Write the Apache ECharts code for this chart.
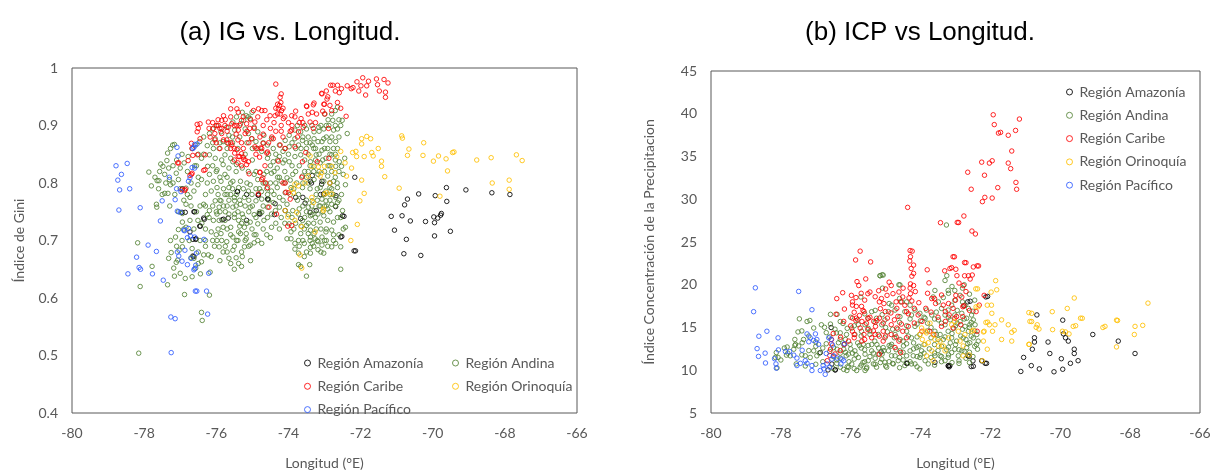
<!DOCTYPE html>
<html>
<head>
<meta charset="utf-8">
<script src="https://cdn.jsdelivr.net/npm/echarts@6/dist/echarts.min.js"></script>
<style>html,body{margin:0;padding:0;background:#fff}#c{width:1222px;height:475px}</style>
</head>
<body>
<div id="c"></div>
<script>
// ---------- categories ----------
const regions = ['Región Amazonía', 'Región Andina', 'Región Caribe', 'Región Orinoquía', 'Región Pacífico'];
const titles = ['(a) IG vs. Longitud.', '(b) ICP vs Longitud.'];
const xName = 'Longitud (°E)';
const yNames = ['Índice de Gini', 'Índice Concentración de la Precipitacion'];

// ---------- (a) Gini index vs longitude ----------
const igAmazonia = [[-72.16,0.81],[-72.18,0.682],[-71.15,0.742],[-71.06,0.718],[-70.85,0.743],[-70.78,0.762],[-70.7,0.772],[-70.73,0.702],[-70.8,0.677],[-70.62,0.734],[-70.39,0.781],[-70.33,0.674],[-70.2,0.733],[-69.95,0.708],[-69.95,0.731],[-69.93,0.778],[-69.97,0.741],[-69.86,0.739],[-69.78,0.744],[-69.76,0.747],[-69.62,0.792],[-69.61,0.768],[-69.51,0.716],[-69.08,0.788],[-68.36,0.783],[-67.86,0.78],
[-76.62,0.75],[-76.35,0.739],[-76.46,0.725],[-76.73,0.715],[-76.65,0.702],[-76.57,0.702],[-76.65,0.673],[-76.94,0.79],[-75.84,0.736],[-75.67,0.739],[-75.42,0.785],[-75.16,0.78],[-74.84,0.779],[-74.81,0.747],[-74.58,0.772],[-74.39,0.745],[-74.09,0.752],[-73.8,0.775],[-73.66,0.738],[-73.39,0.803],[-73.23,0.752],[-73.11,0.78],[-73.07,0.803],[-72.69,0.759],[-72.55,0.706],[-72.5,0.743],[-73.6,0.775],[-73.34,0.813],
[-76.95,0.749],[-76.86,0.749],[-76.6,0.75],[-76.56,0.703],[-76.62,0.672],[-76.44,0.725],[-75.41,0.785],[-74.83,0.779],[-74.56,0.772],[-74.37,0.764],[-74.79,0.746],[-75.8,0.737],[-75.16,0.735],[-76.33,0.737],[-73.54,0.765],[-73.36,0.8],[-73.08,0.798],[-73.03,0.781],[-73.4,0.749],[-72.46,0.742],[-72.52,0.707],[-72.14,0.682],[-72.68,0.778],[-72.85,0.8]];

const igAndina = [[-78.18,0.696],[-78.11,0.62],[-78.15,0.504],[-77.87,0.819],[-77.78,0.655],[-77.8,0.795],[-77.64,0.804],[-77.66,0.763],[-77.65,0.758],[-77.59,0.804],[-77.57,0.82],[-77.54,0.833],[-77.48,0.829],[-77.37,0.839],[-77.35,0.852],[-77.27,0.86],[-77.21,0.866],[-77.16,0.867],[-77.43,0.815],[-77.43,0.782],[-77.34,0.782],[-77.32,0.826],[-77.29,0.76],[-77.3,0.806],[-77.27,0.797],[-77.35,0.623],[-77.32,0.669],[-77.27,0.7],[-77.25,0.679],[-77.18,0.652],[-77.16,0.638],[-77.11,0.662],[-77.07,0.666],[-77.03,0.683],[-77.0,0.643],[-76.94,0.689],[-76.88,0.606],[-76.86,0.634],[-76.67,0.637],[-76.62,0.669],[-76.67,0.686],[-76.57,0.652],[-76.44,0.642],[-76.41,0.663],[-76.35,0.675],[-76.41,0.575],[-76.39,0.561],[-76.19,0.605],[-76.17,0.645],[-76.22,0.675],[-76.14,0.672],
[-77.13,0.706],[-77.05,0.719],[-76.94,0.732],[-76.84,0.723],[-76.73,0.735],[-76.62,0.72],[-76.51,0.735],[-76.94,0.747],[-76.84,0.763],[-76.73,0.775],[-76.62,0.786],[-76.51,0.797],[-76.41,0.806],[-76.84,0.791],[-77.05,0.806],[-77.11,0.817],[-77.0,0.826],[-76.89,0.835],[-76.78,0.846],[-76.67,0.86],[-76.57,0.866],[-76.46,0.872],[-76.35,0.88],[-76.19,0.886],[-76.1,0.894],[-76.03,0.877],[-76.41,0.843],[-76.24,0.829],[-76.19,0.815],[-76.3,0.78],[-76.35,0.763],[-76.19,0.752],[-76.08,0.735],[-76.14,0.715],[-75.98,0.7],[-75.92,0.689],[-75.81,0.68],[-75.65,0.669],[-75.54,0.683],[-75.38,0.66],[-75.28,0.672],[-75.22,0.689],[-75.17,0.703],[-75.06,0.692],[-74.95,0.696],[-74.74,0.695],[-74.47,0.723],[-74.25,0.72],[-74.04,0.703],[-73.93,0.703],[-73.82,0.685],[-73.72,0.658],[-73.66,0.655],[-73.5,0.638],[-73.41,0.658],[-73.39,0.688],[-73.34,0.695],[-73.26,0.703],[-73.18,0.698],[-73.07,0.692],[-73.02,0.678],[-72.91,0.69],[-72.8,0.689],[-72.69,0.695],[-72.55,0.689],[-72.55,0.65],[-72.48,0.72],[-72.42,0.723],[-72.5,0.752],[-72.64,0.766],[-72.53,0.78],[-72.42,0.797],[-72.48,0.815],[-72.53,0.829],[-72.44,0.843],[-72.37,0.886],[-72.51,0.909],[-72.55,0.9],[-72.64,0.894],[-72.75,0.892],[-72.7,0.926],[-72.64,0.932],[-72.77,0.909],[-72.88,0.9],[-73.02,0.894],[-73.16,0.897],[-73.29,0.889],[-73.45,0.88],[-73.61,0.874],[-73.72,0.866],[-73.82,0.877],[-73.98,0.863],[-74.15,0.855],[-74.25,0.846],[-74.42,0.837],[-74.58,0.843],[-74.74,0.855],[-74.9,0.872],[-75.01,0.877],[-75.11,0.886],[-75.2,0.894],[-75.24,0.909],[-75.17,0.917],[-75.06,0.912],[-75.33,0.903],[-75.49,0.892],[-75.65,0.883],[-75.81,0.872],[-75.92,0.86],[-75.76,0.849],[-75.6,0.843],[-75.44,0.832],[-75.28,0.826],[-75.11,0.82],[-74.95,0.815],[-74.85,0.806],[-74.68,0.815],[-74.47,0.817],[-74.31,0.826],[-74.15,0.835],[-73.98,0.837],[-73.82,0.846],[-73.66,0.849],[-73.5,0.86],[-73.34,0.866],[-73.18,0.872],[-73.02,0.877],[-72.85,0.872],[-72.69,0.872],[-72.64,0.86],[-72.8,0.849],[-72.96,0.843],[-73.12,0.835],[-73.29,0.829],[-73.45,0.82],[-73.61,0.812],[-73.77,0.8],[-73.93,0.792],[-74.09,0.783],[-74.25,0.775],[-74.42,0.766],[-74.58,0.758],[-74.74,0.749],[-74.9,0.74],[-75.06,0.732],[-75.22,0.723],[-75.38,0.715],[-75.54,0.706],[-75.71,0.698],[-75.87,0.712],[-75.81,0.723],[-75.76,0.735],[-75.65,0.746],[-75.54,0.758],[-75.49,0.769],[-75.44,0.78],[-75.38,0.792],[-75.33,0.803],[-75.54,0.803],[-75.65,0.792],[-75.76,0.78],[-75.87,0.769],[-75.92,0.758],[-75.98,0.746],[-75.92,0.735],[-76.03,0.769],[-75.98,0.792],[-75.87,0.803],[-75.76,0.815],[-75.65,0.826],[-75.54,0.837],[-75.81,0.832],[-76.03,0.843],[-76.08,0.86],[-76.19,0.849],[-75.98,0.823],[-76.08,0.803],[-76.14,0.786],[-75.33,0.763],[-75.22,0.775],[-75.11,0.786],[-75.06,0.797],[-75.01,0.78],[-74.9,0.769],[-75.06,0.758],[-75.28,0.746],[-75.38,0.735],[-75.49,0.746],[-75.6,0.723],[-75.44,0.7],[-75.33,0.712],[-75.17,0.712],[-75.01,0.72],[-74.85,0.729],[-74.68,0.735],[-74.58,0.74],[-74.47,0.746],[-74.36,0.752],[-74.25,0.758],[-74.31,0.792],[-74.47,0.786],[-74.58,0.78],[-74.74,0.772],[-74.2,0.803],[-74.04,0.809],[-73.88,0.815],[-74.04,0.763],[-73.88,0.752],[-73.72,0.746],[-73.61,0.735],[-73.5,0.726],[-73.39,0.718],[-73.29,0.712],[-73.45,0.712],[-73.56,0.72],[-73.66,0.712],[-73.72,0.7],[-73.56,0.695],[-73.39,0.706],[-73.23,0.72],[-73.12,0.732],[-73.02,0.743],[-72.91,0.755],[-72.8,0.763],[-72.69,0.775],[-72.85,0.78],[-72.96,0.769],[-73.12,0.76],[-73.29,0.752],[-73.39,0.743],[-73.45,0.758],[-73.34,0.769],[-73.23,0.78],[-73.12,0.792],[-73.02,0.803],[-72.91,0.812],[-72.8,0.82],[-72.69,0.829],[-72.59,0.837],[-72.75,0.803],[-72.64,0.792],[-72.85,0.792],[-72.96,0.786],[-73.07,0.772],[-73.18,0.746],[-72.91,0.735],[-72.75,0.732],[-72.64,0.74],[-72.8,0.718],[-72.96,0.715],[-73.07,0.706],[-73.18,0.684],[-73.39,0.678],[-73.56,0.672],[-73.72,0.678],[-73.82,0.695],[-73.93,0.715],[-73.98,0.729],[-73.72,0.78],[-73.61,0.792],[-73.45,0.8],[-73.29,0.806],[-73.18,0.815],[-73.39,0.837],[-73.23,0.849],[-73.07,0.857],[-72.91,0.86],[-72.75,0.86],[-73.07,0.872],[-73.29,0.877],[-73.5,0.894],[-73.66,0.889],[-73.82,0.892],[-73.98,0.883],[-74.09,0.874],[-74.25,0.866],[-74.42,0.86],[-74.58,0.866],[-74.47,0.877],[-74.68,0.883],[-74.85,0.889],[-74.95,0.897],[-75.01,0.923],[-75.11,0.915],[-75.28,0.923],[-75.44,0.915],[-75.54,0.906],[-75.71,0.897],[-75.87,0.889],[-75.98,0.9],
[-75.9,0.75],[-75.7,0.76],[-75.6,0.78],[-75.5,0.74],[-75.7,0.72],[-75.8,0.79],[-75.9,0.81],[-75.7,0.81],[-75.6,0.8],[-75.45,0.82],[-75.35,0.77],[-75.25,0.79],[-75.15,0.8],[-75.25,0.74],[-75.15,0.73],[-75.1,0.75],[-75.95,0.72],[-75.85,0.7],[-75.75,0.69],[-75.6,0.71],[-75.5,0.69],[-75.4,0.7],[-75.3,0.68],[-75.1,0.69],[-74.9,0.71],[-74.8,0.75],[-74.7,0.76],[-74.6,0.79],[-74.5,0.8],[-74.4,0.82],[-74.3,0.84],[-74.1,0.84],[-73.9,0.83],[-73.8,0.82],[-73.7,0.83],[-73.55,0.84],[-73.45,0.85],[-73.3,0.86],[-73.15,0.85],[-73.0,0.86],[-72.85,0.85],[-72.7,0.85],[-72.7,0.81],[-72.85,0.83],[-73.0,0.82],[-73.15,0.82],[-73.3,0.82],[-73.5,0.81],[-73.6,0.8],[-73.4,0.79],[-73.2,0.79],[-73.0,0.78],[-72.8,0.79],[-72.7,0.76],[-72.85,0.75],[-73.0,0.76],[-73.2,0.77],[-73.35,0.76],[-73.5,0.75],[-73.6,0.76],[-73.5,0.77],[-73.3,0.73],[-73.1,0.72],[-72.95,0.72],[-72.75,0.71],[-73.4,0.7],[-73.6,0.7],[-73.2,0.7],[-73.0,0.7],[-72.9,0.91],[-73.0,0.92],[-72.8,0.92],[-72.6,0.91],[-72.95,0.88],[-73.15,0.89],[-73.4,0.87],[-73.6,0.88],[-73.8,0.86],[-74.0,0.85],[-74.3,0.81],[-74.1,0.8],[-73.95,0.78],[-74.15,0.77],[-74.4,0.78],[-74.55,0.77],[-74.65,0.8],[-74.8,0.79],[-74.9,0.82],[-75.0,0.84],[-75.2,0.85],[-75.4,0.86],[-75.55,0.87],[-75.7,0.86],[-75.85,0.84],[-76.0,0.82],[-76.1,0.83],[-76.25,0.8],[-76.3,0.76],[-76.2,0.74],[-76.0,0.71],[-76.05,0.69],[-76.3,0.7],[-76.45,0.7],[-76.5,0.68],[-76.75,0.7],[-76.9,0.72],[-77.05,0.75],[-77.15,0.78],[-77.2,0.8],[-77.1,0.84],[-76.95,0.85],[-76.8,0.82],[-76.6,0.83],[-76.5,0.81],[-76.45,0.76],[-76.55,0.75],[-76.7,0.76],[-75.3,0.655],[-75.5,0.65],[-75.6,0.66],[-75.05,0.665],[-74.85,0.7],[-74.6,0.71],[-74.35,0.73],[-74.1,0.73],[-73.9,0.74],[-73.85,0.72],
[-76.4,0.73],[-76.3,0.72],[-76.25,0.745],[-76.1,0.76],[-76.0,0.75],[-75.95,0.78],[-75.9,0.77],[-75.8,0.76],[-75.75,0.75],[-75.7,0.78],[-75.65,0.77],[-75.55,0.79],[-75.5,0.775],[-75.45,0.76],[-75.4,0.75],[-75.35,0.725],[-75.3,0.73],[-75.2,0.76],[-75.1,0.77],[-75.0,0.76],[-74.95,0.745],[-74.9,0.79],[-74.75,0.785],[-74.7,0.8],[-74.6,0.82],[-74.5,0.83],[-74.35,0.8],[-74.25,0.81],[-74.1,0.82],[-73.95,0.805],[-73.85,0.79],[-73.75,0.77],[-73.7,0.755],[-73.65,0.725],[-73.55,0.74],[-73.45,0.73],[-73.35,0.745],[-73.25,0.74],[-73.15,0.76],[-73.05,0.75],[-72.95,0.76],[-72.85,0.77],[-72.75,0.78],[-72.65,0.8],[-72.6,0.82],[-72.7,0.84],[-72.9,0.83],[-73.05,0.84],[-73.25,0.84],[-73.4,0.83],[-73.55,0.82],[-73.65,0.86],[-73.5,0.87],[-73.25,0.86],[-73.1,0.9],[-72.95,0.9],[-72.7,0.9],[-72.6,0.88],[-72.8,0.88],[-73.35,0.9],[-73.55,0.9],[-73.75,0.9],[-73.9,0.87],[-74.1,0.86],[-74.35,0.85],[-74.55,0.85],[-74.7,0.87],[-74.85,0.86],[-75.0,0.86],[-75.15,0.87],[-75.35,0.88],[-75.55,0.88],[-75.7,0.87],[-75.9,0.87],[-76.1,0.87],[-76.25,0.865],[-76.35,0.85],[-76.5,0.85],[-76.55,0.83],[-76.7,0.8],[-76.8,0.78],[-76.9,0.77],[-77.0,0.79],[-77.2,0.83],[-77.4,0.8],[-77.5,0.78],[-77.6,0.79],[-77.7,0.81],[-76.95,0.7],[-77.1,0.69],[-76.7,0.67],[-76.5,0.66],[-76.3,0.69],[-76.1,0.7],[-75.9,0.665],[-75.7,0.68],[-75.45,0.67],[-75.2,0.7],[-74.95,0.71],[-74.7,0.72],[-74.5,0.705],[-74.2,0.74],[-74.0,0.745],[-73.8,0.73],[-73.7,0.69],[-73.5,0.68],[-73.3,0.69],[-73.1,0.68],[-72.95,0.7],[-72.75,0.7],[-72.6,0.71],[-72.55,0.74],[-72.6,0.77]];

const igCaribe = [[-72.21,0.966],[-72.26,0.964],[-72.1,0.976],[-71.94,0.983],[-71.78,0.977],[-71.83,0.969],[-71.99,0.969],[-71.56,0.981],[-71.53,0.971],[-71.35,0.98],[-71.24,0.974],[-71.31,0.958],[-71.31,0.949],[-71.48,0.96],[-71.86,0.953],[-72.05,0.96],[-72.37,0.969],[-72.64,0.97],[-72.77,0.97],[-72.83,0.97],[-72.53,0.964],[-72.59,0.957],[-73.07,0.955],[-73.02,0.937],[-72.91,0.95],[-72.64,0.94],[-72.55,0.93],[-72.4,0.916],[-72.8,0.926],[-72.93,0.946],[-73.29,0.939],[-73.34,0.923],[-73.5,0.934],
[-74.35,0.972],[-75.55,0.943],[-75.14,0.937],[-75.6,0.929],[-75.43,0.929],[-75.39,0.923],[-74.97,0.926],[-74.83,0.929],[-74.74,0.926],[-74.65,0.926],[-74.23,0.949],[-74.21,0.94],[-74.3,0.937],[-74.28,0.929],[-74.19,0.926],[-74.23,0.92],[-74.14,0.912],[-74.37,0.917],[-74.51,0.917],[-73.91,0.917],[-73.82,0.915],[-73.65,0.912],[-73.49,0.933],[-73.31,0.936],[-73.22,0.92],[-73.08,0.956],[-73.0,0.937],[-72.99,0.92],[-72.89,0.895],[-75.8,0.917],[-75.85,0.909],[-75.94,0.9],[-75.9,0.895],[-75.76,0.9],[-75.67,0.897],[-75.57,0.903],[-75.43,0.9],[-75.3,0.909],[-75.16,0.903],[-75.07,0.895],[-74.93,0.906],[-76.22,0.906],[-76.45,0.903],[-76.5,0.895],[-76.08,0.895],[-76.04,0.886],[-76.17,0.88],[-75.71,0.875],[-75.57,0.866],[-75.43,0.858],[-75.3,0.851],[-75.2,0.84],[-75.16,0.832],[-75.39,0.846],[-74.79,0.88],[-74.7,0.869],[-74.74,0.86],[-74.6,0.852],[-74.46,0.88],[-74.42,0.877],[-74.23,0.866],[-74.09,0.86],[-73.91,0.892],[-73.72,0.889],[-73.59,0.897],[-73.4,0.906],[-73.31,0.895],[-73.82,0.863],[-74.28,0.838],[-74.09,0.8],[-74.0,0.783],[-74.79,0.818],[-74.74,0.806],[-74.83,0.781],[-74.54,0.758],[-74.33,0.746],[-73.91,0.726],[-76.31,0.849],[-76.31,0.823],[-76.45,0.877],[-76.52,0.849],[-75.02,0.877],[-74.93,0.863],[-76.04,0.875],[-75.67,0.869],[-75.85,0.886],[-75.39,0.892],[-75.2,0.886],
[-76.53,0.902],[-76.53,0.889],[-76.69,0.869],[-76.67,0.86],[-77.04,0.835],[-76.69,0.815],[-76.86,0.789],[-76.95,0.788],[-76.73,0.813],[-76.67,0.817],[-76.78,0.839],[-76.65,0.848],[-76.35,0.822],[-77.07,0.835],[-76.88,0.787],[-74.02,0.725],[-73.95,0.772],[-74.07,0.784],[-74.15,0.8],[-74.63,0.8],[-74.58,0.792],[-74.79,0.819],[-74.71,0.809],[-75.09,0.816],[-74.9,0.85],[-74.77,0.861],[-74.58,0.854],[-75.11,0.837],[-75.24,0.841],[-75.35,0.846],[-75.49,0.852],[-75.6,0.86],[-73.61,0.837],[-73.52,0.853],[-73.2,0.837],[-72.88,0.843],[-73.63,0.81],
[-76.2,0.895],[-76.1,0.905],[-76.0,0.9],[-75.95,0.91],[-75.85,0.895],[-75.75,0.91],[-75.7,0.89],[-75.6,0.915],[-75.5,0.9],[-75.45,0.885],[-75.35,0.9],[-75.25,0.915],[-75.15,0.89],[-75.05,0.91],[-74.95,0.895],[-74.85,0.915],[-74.7,0.9],[-74.6,0.91],[-74.5,0.895],[-74.4,0.905],[-74.3,0.92],[-74.2,0.9],[-74.1,0.915],[-74.0,0.905],[-73.9,0.9],[-73.8,0.925],[-73.7,0.905],[-76.0,0.87],[-75.9,0.86],[-75.8,0.875],[-75.6,0.87],[-75.5,0.86],[-75.4,0.875],[-75.3,0.87],[-75.25,0.86],[-75.1,0.87],[-74.9,0.86],[-74.7,0.885],[-74.55,0.87],[-74.35,0.89],[-74.15,0.88],[-74.25,0.935],[-74.15,0.93],[-74.35,0.93],[-74.2,0.955],[-75.3,0.83],[-75.25,0.845],[-75.4,0.835],[-75.5,0.84],[-74.8,0.845],[-74.65,0.83],[-74.2,0.89],[-73.95,0.89],[-73.75,0.88],[-73.6,0.905],[-73.45,0.92],[-73.25,0.905],[-73.05,0.925],[-72.85,0.935],[-72.95,0.96],[-72.7,0.96]];

const igOrinoquia = [[-71.97,0.877],[-71.83,0.881],[-71.72,0.877],[-71.97,0.868],[-72.22,0.853],[-72.11,0.846],[-71.9,0.846],[-71.69,0.853],[-71.65,0.847],[-71.51,0.86],[-71.42,0.838],[-71.42,0.829],[-71.33,0.811],[-71.97,0.805],[-71.9,0.782],[-72.02,0.769],[-72.09,0.728],[-72.27,0.7],[-70.86,0.882],[-70.84,0.878],[-70.66,0.859],[-70.7,0.848],[-70.93,0.791],[-70.25,0.87],[-70.27,0.848],[-69.84,0.847],[-69.98,0.838],[-69.63,0.842],[-69.59,0.821],[-69.41,0.854],[-69.8,0.777],[-68.78,0.84],[-68.38,0.844],[-68.35,0.8],[-72.43,0.835],[-72.39,0.812],[-72.25,0.826],[-72.13,0.855],[-72.55,0.855],[-72.66,0.846],[-72.8,0.829],[-72.71,0.818],[-72.8,0.781],[-73.03,0.755],[-72.85,0.8],[-73.0,0.829],[-73.08,0.818],[-72.94,0.783],
[-67.68,0.849],[-67.52,0.839],[-67.88,0.805],[-67.88,0.789],[-69.45,0.853],
[-73.4,0.847],[-73.35,0.829],[-73.17,0.828],[-73.12,0.812],[-73.45,0.812],[-73.82,0.798],[-73.91,0.789],[-73.72,0.795],[-73.86,0.783],[-74.09,0.752],[-74.02,0.741],[-73.82,0.735],[-73.63,0.724],[-73.35,0.775],[-73.31,0.766],[-73.03,0.752],[-73.0,0.781],[-73.68,0.675],[-73.63,0.652],[-73.26,0.715],[-73.77,0.749],[-73.54,0.8]];

const igPacifico = [[-78.78,0.83],[-78.47,0.834],[-78.63,0.815],[-78.73,0.805],[-78.4,0.79],[-78.68,0.788],[-78.7,0.753],[-78.11,0.757],[-77.55,0.734],[-77.89,0.692],[-77.66,0.681],[-78.21,0.671],[-78.14,0.653],[-78.1,0.65],[-78.45,0.642],[-77.77,0.642],[-77.47,0.631],[-77.26,0.567],[-77.14,0.564],[-77.25,0.505],[-76.54,0.612],[-77.5,0.769],[-77.14,0.771],[-77.08,0.751],[-77.0,0.749],[-77.06,0.847],[-77.09,0.862],[-76.53,0.868],[-76.62,0.862],[-76.6,0.826],[-76.77,0.803],[-77.1,0.79],[-76.98,0.785],[-77.3,0.81],[-76.88,0.717],[-76.77,0.721],[-76.72,0.708],[-76.8,0.705],[-76.87,0.683],[-77.04,0.673],[-77.08,0.68],[-76.95,0.664],[-76.8,0.658],[-76.7,0.669],[-76.6,0.651],[-76.55,0.678],[-76.6,0.706],[-76.9,0.718],[-76.62,0.649],[-76.57,0.657],[-76.21,0.643],[-76.24,0.572],[-76.58,0.612],[-76.27,0.612],[-76.34,0.702],[-76.65,0.86],[-76.6,0.867],[-76.67,0.827],[-76.73,0.809]];

// ---------- (b) precipitation concentration index vs longitude ----------
const icpAmazonia = [[-72.13,18.58],[-72.65,18.0],[-70.67,16.47],[-69.93,15.86],[-69.91,14.26],[-69.85,13.8],[-69.77,13.41],[-70.74,13.8],[-70.74,13.3],[-70.35,13.3],[-71.05,11.5],[-71.13,9.86],[-70.8,12.46],[-70.83,10.54],[-70.6,10.16],[-70.3,11.96],[-70.18,9.82],[-69.97,11.35],[-69.93,10.12],[-69.71,10.81],[-69.6,12.46],[-69.6,11.96],[-69.49,11.12],[-69.07,14.18],[-68.34,13.41],[-67.86,11.96],[-73.21,10.5],[-73.2,10.55],[-72.55,10.43],[-72.15,10.81],[-72.5,11.1],[-72.65,11.7],[-74.4,10.81],[-76.45,10.05],[-76.56,15.0],[-76.87,12.07],[-76.54,10.73],[-76.44,10.04],[-76.65,10.04],[-72.08,18.64],[-72.58,18.07],[-72.61,11.61],[-72.49,10.47],[-72.25,11.1],[-72.11,10.81],[-73.59,10.92],[-73.16,10.54],[-73.18,10.4],[-74.38,10.81],[-75.13,12.14],[-72.76,17.53]];

const icpAndina = [[-77.47,16.01],[-77.25,15.7],[-77.17,15.82],[-77.51,14.48],[-77.82,12.72],[-77.63,12.46],[-77.58,13.03],[-77.49,12.84],[-77.39,13.22],[-77.35,13.6],[-78.13,12.07],[-78.16,11.5],[-78.08,11.5],[-78.11,10.28],[-77.56,10.74],[-77.84,11.77],[-77.06,14.94],[-76.84,15.32],[-76.75,15.02],[-76.58,15.4],[-76.58,16.54],[-76.39,16.54],[-76.22,15.47],[-76.3,14.37],[-76.41,14.37],[-76.15,13.6],[-76.35,13.22],[-76.2,12.46],[-76.13,11.69],[-76.06,10.36],[-76.11,9.97],[-76.3,10.36],[-76.39,12.46],[-76.49,12.65],[-76.97,11.69],[-77.16,11.5],[-77.3,11.69],[-77.06,12.27],[-77.73,11.69],
[-76.12,14.18],[-76.02,13.03],[-76.07,11.88],[-75.97,10.74],[-75.88,12.27],[-75.78,11.5],[-75.73,10.36],[-75.64,13.03],[-75.59,11.88],[-75.5,11.12],[-75.54,10.36],[-75.4,12.27],[-75.35,10.74],[-75.31,13.41],[-75.21,11.88],[-75.11,11.31],[-75.02,10.93],[-74.97,10.36],[-74.92,12.27],[-74.83,13.03],[-74.73,11.69],[-74.64,11.12],[-74.59,12.27],[-74.49,12.84],[-74.4,11.69],[-74.3,12.27],[-74.16,10.74],[-74.21,11.69],[-74.11,12.65],[-73.97,12.27],[-74.02,11.5],[-73.87,11.12],[-73.78,10.74],[-73.59,11.69],[-73.44,11.69],[-73.3,11.12],[-73.21,11.5],[-73.11,12.07],[-73.02,12.46],[-72.92,11.69],[-72.82,12.27],[-72.68,12.65],[-72.59,13.22],[-72.49,13.79],[-72.39,14.18],[-72.35,13.41],[-72.37,12.46],[-72.44,15.32],[-72.49,15.89],[-72.54,16.46],[-72.63,17.23],[-72.73,17.61],[-72.8,17.99],[-72.87,18.76],[-73.02,19.33],[-73.02,18.19],[-73.11,17.61],[-73.21,17.04],[-73.3,16.46],[-73.4,17.23],[-73.49,17.99],[-73.64,18.57],[-73.59,19.33],[-73.21,19.33],[-73.3,15.32],[-73.21,14.56],[-73.11,13.79],[-72.97,13.41],[-72.78,13.79],[-72.63,14.56],[-72.73,15.13],[-72.87,15.7],[-73.02,16.46],[-72.82,16.66],[-72.68,16.08],[-72.59,15.32],[-73.44,14.18],[-73.59,14.56],[-73.49,15.89],[-73.68,16.46],[-73.83,17.04],[-73.87,16.08],[-74.02,16.66],[-74.16,17.04],[-74.26,16.46],[-74.3,17.61],[-74.4,17.99],[-74.54,17.99],[-74.45,16.85],[-74.59,16.27],[-74.73,17.04],[-74.83,17.61],[-74.92,16.85],[-75.02,15.89],[-75.11,15.32],[-75.26,16.08],[-75.4,16.85],[-75.5,16.08],[-75.59,15.32],[-75.69,14.56],[-75.78,15.32],[-75.88,14.18],[-75.97,14.94],[-75.16,21.05],[-75.07,21.13],[-75.71,18.57],[-74.59,19.98],[-75.09,19.6],[-74.59,13.6],[-74.73,14.18],[-74.4,14.56],[-74.26,13.79],[-74.16,15.13],[-74.02,14.18],[-75.21,14.18],[-75.02,13.79],[-75.45,14.18],[-74.83,11.69],[-75.07,12.65],[-74.45,10.55],[-74.26,10.74],[-74.02,10.16],[-74.78,10.74],[-75.26,10.36],[-75.83,9.97],[-75.59,9.97],
[-76.4,11.2],[-76.3,12.0],[-76.2,13.0],[-76.0,12.5],[-75.9,11.3],[-75.8,13.2],[-75.7,12.6],[-75.6,11.0],[-75.5,12.9],[-75.45,14.6],[-75.35,12.0],[-75.25,13.0],[-75.15,10.9],[-75.05,12.3],[-74.95,14.5],[-74.85,12.8],[-74.75,13.8],[-74.65,14.8],[-74.5,13.4],[-74.35,14.0],[-74.2,13.2],[-74.05,12.8],[-73.9,13.0],[-73.75,12.5],[-73.6,13.0],[-73.5,12.3],[-73.4,12.8],[-73.25,12.4],[-73.15,13.2],[-73.05,14.9],[-72.95,15.5],[-72.85,14.0],[-72.75,12.2],[-72.65,13.1],[-72.55,14.0],[-72.45,12.8],[-72.5,11.6],[-72.7,11.4],[-72.9,11.1],[-73.1,10.9],[-73.4,11.0],[-73.7,11.5],[-74.1,11.6],[-74.5,11.2],[-74.9,11.0],[-75.3,11.4],[-75.7,10.6],[-76.1,10.4],[-76.5,10.2],[-76.8,11.0],[-77.0,12.8],[-77.2,12.3],[-77.4,11.8],[-77.6,12.9],[-77.9,12.6],[-78.0,11.2],[-76.6,13.9],[-76.45,14.8],[-76.3,15.7],[-76.0,16.2],[-75.8,15.9],[-75.6,16.6],[-75.3,17.0],[-75.1,16.5],[-74.9,17.8],[-74.6,18.4],[-74.3,16.0],[-74.1,15.4],[-73.9,16.2],[-73.7,15.0],[-73.55,16.8],[-73.35,18.5],[-73.15,15.9],[-72.95,17.0],[-72.75,16.0],[-72.6,15.0],[-72.5,16.9],[-72.45,18.2],[-72.6,18.9],[-72.8,19.6],[-73.1,19.8],[-73.25,21.06],[-73.26,26.99],[-74.62,20.0],[-75.16,21.06],[-75.1,21.17],[-72.75,20.0],[-73.3,20.5],[-73.2,19.0],[-73.35,13.6],[-73.55,14.2],
[-76.9,12.0],[-76.8,12.6],[-76.7,13.1],[-76.6,12.2],[-76.5,11.6],[-76.4,10.8],[-76.3,11.4],[-76.2,10.1],[-76.15,12.1],[-76.05,11.0],[-75.95,12.0],[-75.9,10.2],[-75.85,11.8],[-75.75,12.9],[-75.65,10.9],[-75.6,12.4],[-75.55,10.2],[-75.45,11.6],[-75.4,13.0],[-75.3,10.7],[-75.2,12.6],[-75.1,11.9],[-75.0,10.5],[-74.9,12.9],[-74.8,10.8],[-74.7,12.4],[-74.6,11.5],[-74.5,12.1],[-74.4,13.1],[-74.3,11.0],[-74.2,12.5],[-74.1,13.9],[-74.0,11.8],[-73.9,12.0],[-73.8,14.6],[-73.7,13.8],[-73.6,12.0],[-73.5,13.6],[-73.4,11.6],[-73.3,13.9],[-73.2,12.7],[-73.1,14.3],[-73.0,13.0],[-72.9,12.4],[-72.8,14.8],[-72.7,13.6],[-72.6,12.1],[-72.55,15.6],[-72.45,14.6],[-72.4,13.0],[-73.0,15.2],[-73.2,16.2],[-73.4,15.5],[-73.6,16.0],[-73.8,15.5],[-74.0,15.8],[-74.4,15.2],[-74.6,15.6],[-74.8,14.8],[-75.0,15.0],[-75.3,15.6],[-75.5,14.9],[-75.7,14.0],[-75.9,15.2],[-76.1,14.9],[-76.3,13.6],[-76.7,14.4],[-77.0,13.3],[-77.2,14.0],[-77.4,14.6],[-77.6,13.6],[-77.8,12.0],[-77.0,10.7],[-77.3,10.5],[-74.6,10.3],[-74.1,10.4],[-73.6,10.6],[-73.2,11.8],[-72.9,10.8],[-72.6,10.9]];

const icpCaribe = [[-71.92,39.88],[-71.17,39.38],[-71.89,38.73],[-71.77,37.74],[-71.71,37.82],[-71.49,37.48],[-71.28,38.05],[-71.39,35.64],[-72.25,34.34],[-72.03,34.23],[-71.95,34.5],[-71.49,34.23],[-71.42,33.58],[-72.65,33.16],[-72.17,32.81],[-72.55,31.17],[-71.79,31.36],[-71.27,31.97],[-71.25,31.17],[-72.16,30.22],[-72.23,29.72],[-71.95,30.14],[-72.76,28.04],[-72.91,27.28],[-72.53,26.28],[-72.43,25.94],[-73.03,23.27],[-72.7,22.58],[-73.11,22.0],[-72.99,21.81],[-72.49,22.08],[-72.34,22.2],[-72.74,21.05],[-72.63,21.05],[-72.58,20.67],[-72.78,19.9],[-72.99,18.76],[-72.82,18.57],[-72.76,17.54],[-72.97,16.28],
[-74.37,29.05],[-73.43,27.26],[-72.95,27.29],[-73.07,23.28],[-73.16,21.9],[-72.74,22.59],[-72.38,22.21],[-72.52,21.14],[-72.96,21.06],[-73.31,21.63],[-73.81,21.75],[-74.24,23.93],[-74.29,23.28],[-74.31,22.78],[-74.27,21.9],[-74.2,21.33],[-74.29,20.1],[-74.2,19.91],[-73.76,20.22],[-73.6,18.38],[-74.29,18.96],[-74.33,18.46],[-75.73,23.93],[-75.86,22.9],[-75.43,22.67],[-75.82,20.37],[-75.57,20.68],[-75.77,19.91],[-75.98,18.76],[-76.23,19.07],[-76.4,18.38],[-76.42,16.55],[-76.18,17.16],[-76.2,15.71],[-75.95,16.1],[-76.29,13.87],[-75.95,17.62],[-75.84,17.47],[-75.69,17.47],[-75.9,16.78],[-75.62,16.86],[-75.51,18.96],[-75.45,19.15],[-75.18,18.0],[-75.12,18.38],[-74.96,18.76],[-74.84,19.91],[-74.79,18.96],[-74.62,19.15],[-74.51,18.57],[-74.57,18.0],[-74.68,17.24],[-74.4,16.86],[-74.18,17.24],[-74.07,16.47],[-73.96,15.71],[-73.85,17.24],[-73.68,18.38],[-73.57,17.81],[-73.35,17.62],[-73.29,16.86],[-73.18,16.47],[-73.02,16.09],[-73.07,17.24],[-72.79,17.43],[-75.01,16.86],[-75.18,16.09],[-75.34,15.71],[-75.51,16.09],[-75.68,15.71],[-75.84,16.1],[-75.73,14.94],[-75.51,14.75],[-75.29,15.13],[-75.07,15.52],[-74.84,15.33],[-74.68,14.94],[-74.51,14.56],[-74.35,15.13],[-74.18,15.52],[-75.07,14.56],[-75.18,13.99],[-75.4,13.8],[-75.62,14.18],[-75.95,14.56],[-75.9,14.18],[-75.68,13.41],[-75.07,13.41],[-74.84,14.18],[-74.62,13.41],[-74.73,12.65],[-74.57,12.08],[-75.18,11.88],[-76.06,13.41],[-76.18,13.03],[-76.56,13.1],[-76.58,12.46],[-76.6,11.73],[-76.67,11.12],[-73.74,14.56],[-73.62,14.18],[-73.96,14.56],[-73.4,15.13],[-73.29,15.71],[-73.07,14.94],[-72.85,15.33],[-72.79,16.28],[-72.38,14.56],[-72.32,17.62],[-72.41,16.86],[-72.18,18.76],
[-76.0,15.2],[-75.85,15.8],[-75.75,16.4],[-75.65,17.0],[-75.55,15.5],[-75.45,16.2],[-75.35,14.6],[-75.25,15.8],[-75.15,17.2],[-75.05,17.8],[-74.95,16.1],[-74.85,16.7],[-74.75,15.9],[-74.65,16.3],[-74.55,15.4],[-74.45,17.6],[-74.35,16.6],[-74.25,18.1],[-74.15,19.2],[-74.05,17.9],[-75.95,18.0],[-75.85,18.5],[-75.7,19.0],[-75.6,18.2],[-75.3,18.6],[-75.2,19.3],[-75.0,19.5],[-74.9,20.3],[-74.7,18.0],[-74.5,19.6],[-74.3,19.6],[-74.25,21.0],[-74.2,22.3],[-74.3,24.0],[-73.8,19.0],[-73.7,16.8],[-73.5,16.2],[-73.4,18.8],[-73.2,17.8],[-73.0,18.2],[-72.9,20.2],[-72.7,19.2],[-72.6,17.0],[-75.9,13.8],[-75.6,13.6],[-75.3,14.2],[-75.0,14.0],[-74.7,13.9],[-74.4,13.8],[-76.3,12.3],[-76.45,11.9],[-76.55,13.6],[-76.5,14.3]];

const icpOrinoquia = [[-71.85,20.48],[-71.82,19.41],[-71.98,19.14],[-72.09,17.61],[-72.41,17.42],[-71.96,16.66],[-72.13,15.59],[-72.03,15.32],[-71.87,15.32],[-71.68,15.89],[-71.49,15.32],[-71.32,14.67],[-71.39,14.44],[-71.94,14.56],[-72.2,14.48],[-72.09,12.46],[-71.68,13.6],[-71.39,13.41],[-72.23,11.12],[-72.37,19.52],[-70.82,16.66],[-70.82,15.7],[-70.66,15.32],[-70.61,14.82],[-70.23,16.85],[-70.22,14.75],[-69.94,14.56],[-69.8,17.23],[-69.6,18.45],[-69.56,15.21],[-69.37,16.08],[-69.75,14.25],[-70.9,13.03],[-68.72,15.13],[-68.36,15.82],
[-69.42,16.09],[-69.63,15.13],[-69.85,14.48],[-68.78,15.0],[-68.39,15.86],[-68.39,12.73],[-67.88,14.18],[-67.86,15.13],[-67.64,15.25],[-67.49,17.85],[-70.9,16.74],[-70.87,15.71],[-70.69,15.02],[-70.89,13.03],
[-72.42,19.52],[-72.35,17.42],[-71.97,17.61],[-72.08,15.63],[-72.18,14.56],[-72.49,14.67],[-73.02,15.7],[-73.11,15.32],[-73.73,15.51],[-73.87,14.56],[-74.02,14.18],[-73.95,13.6],[-73.78,13.22],[-73.59,13.6],[-73.44,13.41],[-73.35,12.84],[-73.3,12.27],[-73.49,12.84],[-73.68,12.27],[-73.83,11.69],[-73.64,11.12],[-72.87,13.41],[-72.78,12.84],[-72.73,14.18],[-72.54,14.56],[-72.92,14.56],[-73.2,13.79],[-73.83,14.37],[-73.64,14.18],[-73.97,14.94],[-72.78,11.69],[-72.61,11.8],[-73.87,13.03],[-72.2,13.41]];

const icpPacifico = [[-78.73,19.64],[-77.49,19.22],[-78.78,16.85],[-77.11,17.08],[-78.63,13.98],[-78.4,14.56],[-78.08,13.79],[-78.68,12.53],[-78.45,12.0],[-78.64,11.62],[-78.07,12.38],[-78.18,11.35],[-78.44,10.85],[-78.14,10.74],[-78.13,10.24],[-77.87,12.19],[-77.75,12.19],[-77.63,11.77],[-77.54,11.42],[-77.54,10.55],[-77.44,10.81],[-77.25,14.25],[-77.16,13.79],[-77.06,13.49],[-77.2,13.33],[-77.01,14.25],[-77.39,12.34],[-77.3,11.12],[-77.25,10.81],[-77.11,10.55],[-77.11,9.97],[-76.97,13.6],[-76.92,13.03],[-76.7,11.96],[-76.68,10.74],[-76.6,10.36],[-76.73,9.52],[-76.87,9.97],[-76.77,10.16],[-76.79,10.55],[-76.63,13.79],[-76.56,13.6],[-76.52,12.95],[-76.49,11.69],[-76.54,11.31],[-76.39,11.42],[-76.25,11.31],[-76.2,11.12],[-76.28,10.74],[-76.18,13.1]];

// ---------- styling ----------
const colors = ['#000000', '#548235', '#FF0000', '#FFC000', '#2E5BFF'];
const font = 'Lato, "Open Sans", sans-serif';
const grey = '#595959';

const chart = echarts.init(document.getElementById('c'), null, {renderer: 'canvas'});

const setsA = [igAmazonia, igAndina, igCaribe, igOrinoquia, igPacifico];
const setsB = [icpAmazonia, icpAndina, icpCaribe, icpOrinoquia, icpPacifico];

function mk(data, i, axis) {
  return {
    type: 'scatter', name: regions[i], xAxisIndex: axis, yAxisIndex: axis,
    data: data, symbol: 'circle', symbolSize: 4.5,
    itemStyle: {color: 'rgba(0,0,0,0)', borderColor: colors[i], borderWidth: 1, opacity: 0.85},
    emphasis: {disabled: true}, animation: false
  };
}
const series = [];
setsA.forEach((d, i) => series.push(mk(d, i, 0)));
setsB.forEach((d, i) => series.push(mk(d, i, 1)));

const axisLabel = {color: grey, fontFamily: font, fontSize: 14};
function xAxis(grid) {
  return {type: 'value', gridIndex: grid, min: -80, max: -66, interval: 2,
    name: xName, nameLocation: 'middle', nameGap: 43,
    nameTextStyle: {color: grey, fontFamily: font, fontSize: 14},
    axisLine: {show: false}, axisTick: {show: false}, splitLine: {show: false},
    axisLabel: Object.assign({margin: 13}, axisLabel)};
}
const legText = {color: grey, fontFamily: font, fontSize: 14, lineHeight: 16, padding: [0, 0, 0, 2]};
const legBase = {orient: 'vertical', itemWidth: 6, itemHeight: 6, icon: 'circle', itemGap: 7.3,
  itemStyle: {color: 'rgba(0,0,0,0)', borderWidth: 1}, textStyle: legText, selectedMode: false};
const titleStyle = {fontFamily: '"Liberation Sans", Arial, sans-serif', fontSize: 26, fontWeight: 'normal', color: '#000'};

chart.setOption({
  backgroundColor: '#fff',
  animation: false,
  title: [
    {text: titles[0], left: 285, top: 15, textAlign: 'center', textStyle: titleStyle},
    {text: titles[1], left: 915, top: 15, textAlign: 'center', textStyle: titleStyle}
  ],
  grid: [
    {left: 72, top: 68, width: 505, height: 351, show: true, borderColor: '#595959', borderWidth: 1, backgroundColor: 'rgba(0,0,0,0)'},
    {left: 711, top: 71, width: 489, height: 349, show: true, borderColor: '#595959', borderWidth: 1, backgroundColor: 'rgba(0,0,0,0)'}
  ],
  xAxis: [xAxis(0), xAxis(1)],
  yAxis: [
    {type: 'value', gridIndex: 0, min: 0.4, max: 1, interval: 0.1,
     name: yNames[0], nameLocation: 'middle', nameGap: 46,
     nameTextStyle: {color: grey, fontFamily: font, fontSize: 14},
     axisLine: {show: false}, axisTick: {show: false}, splitLine: {show: false},
     axisLabel: Object.assign({margin: 14}, axisLabel)},
    {type: 'value', gridIndex: 1, min: 5, max: 45, interval: 5,
     name: yNames[1], nameLocation: 'middle', nameGap: 55,
     nameTextStyle: {color: grey, fontFamily: font, fontSize: 14},
     axisLine: {show: false}, axisTick: {show: false}, splitLine: {show: false},
     axisLabel: Object.assign({margin: 14}, axisLabel)}
  ],
  legend: [
    Object.assign({}, legBase, {data: [regions[0], regions[2], regions[4]], left: 299, top: 350}),
    Object.assign({}, legBase, {data: [regions[1], regions[3]], left: 447, top: 350}),
    Object.assign({}, legBase, {data: regions.slice(), left: 1061, top: 79})
  ],
  series: series
});
</script>
</body>
</html>
